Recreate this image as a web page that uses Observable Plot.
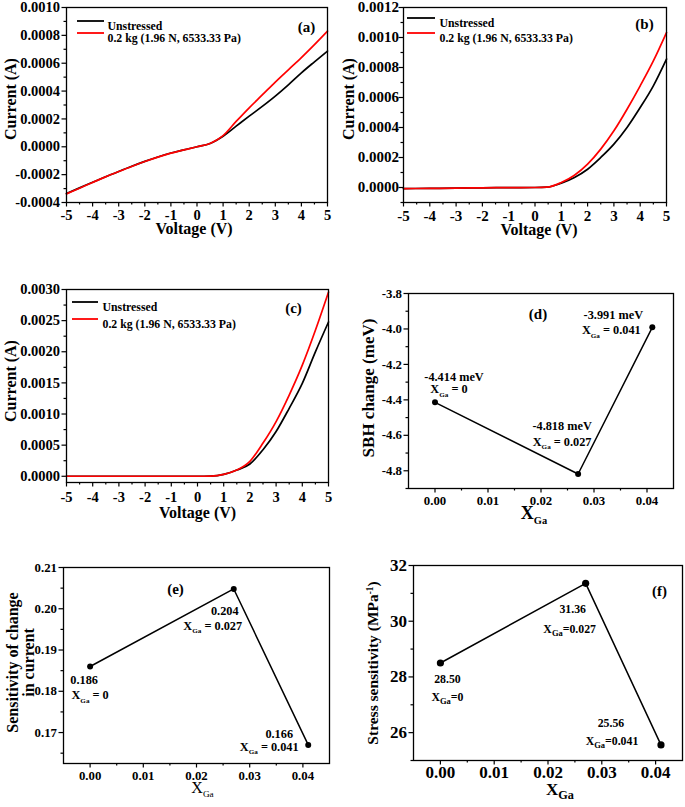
<!DOCTYPE html>
<html><head><meta charset="utf-8">
<script src="https://cdn.jsdelivr.net/npm/d3@7"></script>
<script src="https://cdn.jsdelivr.net/npm/@observablehq/plot@0.6"></script>
<style>
body{margin:0;background:#fff;}
#root{position:relative;width:685px;height:807px;overflow:hidden;background:#fff;}
#root svg{position:absolute;}
</style></head><body><div id="root"></div>
<script>
// ---------------- DATA ----------------
const seriesNames = ["Unstressed", "0.2 kg (1.96 N, 6533.33 Pa)"];

// (a)
const voltageA = [-5,-4.5,-4,-3.5,-3,-2.5,-2,-1.5,-1,-0.5,0,0.5,1,1.5,2,2.5,3,3.5,4,4.5,5];
const aUnstressed = [-0.000335,-0.000295,-0.000255,-0.000215,-0.000177,-0.000140,-0.000105,-0.000073,-0.000045,-0.000022,0,0.000024,0.000076,0.000148,0.000220,0.000290,0.000364,0.000445,0.000531,0.000610,0.000687];
const aStressed   = [-0.000338,-0.000297,-0.000256,-0.000216,-0.000178,-0.000141,-0.000106,-0.000074,-0.000046,-0.000022,0,0.000024,0.000080,0.000182,0.000280,0.000372,0.000465,0.000553,0.000640,0.000733,0.000830];

// (b)
const voltageB = [-5,-4,-3,-2,-1,0,0.45,1,1.5,2,2.5,3,3.5,4,4.5,5];
const bUnstressed = [-0.000007,-0.000006,-0.000004,-0.000002,-0.000001,0,0.000002,0.000029,0.000067,0.000122,0.000200,0.000289,0.000400,0.000533,0.000678,0.000856];
const bStressed   = [-0.000007,-0.000006,-0.000004,-0.000002,-0.000001,0,0.000002,0.000033,0.000082,0.000156,0.000256,0.000378,0.000522,0.000678,0.000844,0.001033];

// (c)
const voltageC = [-5,-4,-3,-2,-1,0,0.5,1,1.5,2,2.5,3,3.5,4,4.5,5];
const cUnstressed = [0,0,0,0,0,0,0.000003,0.00003,0.0001,0.000197,0.000426,0.000719,0.001092,0.001492,0.001998,0.002478];
const cStressed   = [0,0,0,0,0,0,0.000003,0.00003,0.0001,0.00024,0.000533,0.000879,0.001305,0.001785,0.002345,0.002957];

// (d), (e), (f)
const xGa = [0, 0.027, 0.041];
const sbhChange = [-4.414, -4.818, -3.991];
const sbhLabels = ["-4.414 meV", "-4.818 meV", "-3.991 meV"];
const xGaLabelsSpaced = ["X_{Ga} = 0", "X_{Ga} = 0.027", "X_{Ga} = 0.041"];
const currentSensitivity = [0.186, 0.2048, 0.167];
const currentSensLabels = ["0.186", "0.204", "0.166"];
const stressSensitivity = [28.50, 31.36, 25.56];
const stressSensLabels = ["28.50", "31.36", "25.56"];
const xGaLabelsTight = ["X_{Ga}=0", "X_{Ga}=0.027", "X_{Ga}=0.041"];

// ticks
const voltTicks = [-5,-4,-3,-2,-1,0,1,2,3,4,5];
const voltMinor = [-4.5,-3.5,-2.5,-1.5,-0.5,0.5,1.5,2.5,3.5,4.5];
const aTicksY = [-0.0004,-0.0002,0,0.0002,0.0004,0.0006,0.0008,0.001];
const aMinorY = [-0.0003,-0.0001,0.0001,0.0003,0.0005,0.0007,0.0009];
const bTicksY = [0,0.0002,0.0004,0.0006,0.0008,0.001,0.0012];
const bMinorY = [-0.0001,0.0001,0.0003,0.0005,0.0007,0.0009,0.0011];
const cTicksY = [0,0.0005,0.001,0.0015,0.002,0.0025,0.003];
const cMinorY = [0.00025,0.00075,0.00125,0.00175,0.00225,0.00275];
const xGaTicks = [0,0.01,0.02,0.03,0.04];
const xGaMinor = [0.005,0.015,0.025,0.035];
const dTicksY = [-4.8,-4.6,-4.4,-4.2,-4.0,-3.8];
const dMinorY = [-4.9,-4.7,-4.5,-4.3,-4.1,-3.9];
const eTicksY = [0.17,0.18,0.19,0.20,0.21];
const eMinorY = [0.165,0.175,0.185,0.195,0.205];
const fTicksY = [26,28,30,32];
const fMinorY = [25,27,29,31];

// ---------------- RENDER ----------------
const NS = "http://www.w3.org/2000/svg";
const root = document.getElementById("root");
const SERIF = "'Liberation Serif','Times New Roman',serif";
const fmt = p => d => d.toFixed(p);
const blank = () => "";

function richify(svg, ratio) {
  svg.querySelectorAll("text").forEach(t => {
    const targets = t.children.length ? Array.from(t.querySelectorAll("tspan")) : [t];
    targets.forEach(el => {
      const s = el.textContent;
      if (!/[_^]\{/.test(s)) return;
      const fs = parseFloat(getComputedStyle(el).fontSize);
      const parts = s.split(/([_^]\{[^}]*\})/);
      el.textContent = "";
      let shift = 0;
      parts.forEach(p => {
        if (!p) return;
        const ts = document.createElementNS(NS, "tspan");
        let off = 0;
        if (p.startsWith("_{")) { off = 0.28 * fs; ts.textContent = p.slice(2, -1); ts.setAttribute("font-size", (ratio * fs) + "px"); }
        else if (p.startsWith("^{")) { off = -0.38 * fs; ts.textContent = p.slice(2, -1); ts.setAttribute("font-size", (0.6 * fs) + "px"); }
        else { ts.textContent = p; }
        if (off - shift !== 0) ts.setAttribute("dy", (off - shift) + "px");
        shift = off;
        el.appendChild(ts);
      });
    });
  });
}

function panel(c) {
  const lab = (text, anchor, o) => Plot.text([text], {
    frameAnchor: anchor, text: d => d, dx: o.dx, dy: o.dy, fontSize: o.size,
    fontWeight: o.weight || "bold", rotate: o.rotate || 0, fill: "black", textAnchor: "middle"
  });
  const marks = [
    Plot.axisX(c.xMinor, {anchor: "bottom", tickSize: 2.5, tickFormat: blank, strokeWidth: 1.2, label: null}),
    Plot.axisX(c.xTicks, {anchor: "bottom", tickSize: 4.5, tickPadding: c.xPad, tickFormat: c.xFmt, strokeWidth: 1.2, label: null, fontSize: c.tickFont}),
    Plot.axisY(c.yMinor, {anchor: "left", tickSize: 2.5, tickFormat: blank, strokeWidth: 1.2, label: null}),
    Plot.axisY(c.yTicks, {anchor: "left", tickSize: 4.5, tickPadding: c.yPad, tickFormat: c.yFmt, strokeWidth: 1.2, label: null, fontSize: c.tickFont}),
    ...c.marks,
    Plot.frame({stroke: "black", strokeWidth: 1.3}),
    lab(c.xLabel.text, "bottom", c.xLabel),
    ...c.yLabels.map(l => lab(l.text, "left", {...l, rotate: -90})),
    lab(c.tag.text, c.tag.anchor, {dx: c.tag.dx, dy: c.tag.dy, size: 15})
  ];
  if (c.legend) {
    c.legend.labels.forEach((t, i) => marks.push(Plot.text([t], {
      frameAnchor: "top-left", text: d => d, textAnchor: "start", dx: c.legend.textX, dy: c.legend.rowsY[i],
      fontSize: 11.8, fontWeight: "bold", fill: "black"
    })));
  }
  const svg = Plot.plot({
    width: c.width, height: c.height,
    marginLeft: c.m[0], marginRight: c.m[1], marginTop: c.m[2], marginBottom: c.m[3],
    x: {domain: c.xDomain}, y: {domain: c.yDomain},
    style: `font-family:${SERIF};font-weight:bold;font-size:${c.tickFont}px;text-anchor:middle;background:white;overflow:visible;color:black;`,
    marks
  });
  svg.style.left = c.left + "px";
  svg.style.top = c.top + "px";
  root.appendChild(svg);
  if (c.legend) {
    const g = d3.select(svg).append("g");
    c.legend.colors.forEach((col, i) => {
      g.append("line")
        .attr("x1", c.m[0] + c.legend.lineX[0]).attr("x2", c.m[0] + c.legend.lineX[1])
        .attr("y1", c.m[2] + c.legend.rowsY[i]).attr("y2", c.m[2] + c.legend.rowsY[i])
        .attr("stroke", col).attr("stroke-width", 1.8);
    });
  }
  richify(svg, c.subRatio || 0.6);
  return svg;
}

const ivLines = (v, u, s) => [
  Plot.lineY(u, {x: v, stroke: "black", strokeWidth: 1.7, curve: "monotone-x"}),
  Plot.lineY(s, {x: v, stroke: "#ff0000", strokeWidth: 1.7, curve: "monotone-x"})
];

function annot(xs, ys, labels, offs, size) {
  return labels.map((t, i) => Plot.text([i], {
    x: j => xs[j], y: j => ys[j], text: () => t, dx: offs[i][0], dy: offs[i][1],
    fontSize: size, fontWeight: "bold", fill: "black", textAnchor: "middle"
  }));
}

// (a)
panel({
  left: 0, top: 0, width: 340, height: 270, m: [66, 13, 7, 68],
  xDomain: [-5, 5], yDomain: [-0.0004, 0.001],
  xTicks: voltTicks, xMinor: voltMinor, xFmt: fmt(0), xPad: 3,
  yTicks: aTicksY, yMinor: aMinorY, yFmt: fmt(4), yPad: 2, tickFont: 14.5,
  marks: ivLines(voltageA, aUnstressed, aStressed),
  xLabel: {text: "Voltage (V)", dx: -3, dy: 31, size: 16},
  yLabels: [{text: "Current (A)", dx: -56, dy: -6, size: 16}],
  tag: {text: "(a)", anchor: "top-right", dx: -21, dy: 14},
  legend: {labels: seriesNames, colors: ["black", "#ff0000"], lineX: [11, 38], rowsY: [14, 26], textX: 41}
});

// (b)
panel({
  left: 340, top: 0, width: 345, height: 270, m: [63, 19, 7, 68],
  xDomain: [-5, 5], yDomain: [-0.0001, 0.0012],
  xTicks: voltTicks, xMinor: voltMinor, xFmt: fmt(0), xPad: 3,
  yTicks: bTicksY, yMinor: bMinorY, yFmt: fmt(4), yPad: 0, tickFont: 15,
  marks: ivLines(voltageB, bUnstressed, bStressed),
  xLabel: {text: "Voltage (V)", dx: 4, dy: 32, size: 16},
  yLabels: [{text: "Current (A)", dx: -55, dy: -6, size: 16}],
  tag: {text: "(b)", anchor: "top-right", dx: -22, dy: 11},
  legend: {labels: seriesNames, colors: ["black", "#ff0000"], lineX: [4, 32], rowsY: [11, 26], textX: 36}
});

// (c)
panel({
  left: 0, top: 270, width: 340, height: 270, m: [66, 12, 19, 58],
  xDomain: [-5, 5], yDomain: [-0.0001, 0.003],
  xTicks: voltTicks, xMinor: voltMinor, xFmt: fmt(0), xPad: 5,
  yTicks: cTicksY, yMinor: cMinorY, yFmt: fmt(4), yPad: 2, tickFont: 14.5,
  marks: ivLines(voltageC, cUnstressed, cStressed),
  xLabel: {text: "Voltage (V)", dx: 0, dy: 35, size: 16},
  yLabels: [{text: "Current (A)", dx: -56, dy: -5, size: 16}],
  tag: {text: "(c)", anchor: "top-right", dx: -35, dy: 13},
  legend: {labels: seriesNames, colors: ["black", "#ff0000"], lineX: [6, 32], rowsY: [13, 30], textX: 36}
});

// (d)
panel({
  left: 340, top: 270, width: 345, height: 270, m: [68, 12, 23, 52],
  xDomain: [-0.005, 0.045], yDomain: [-4.9, -3.8],
  xTicks: xGaTicks, xMinor: xGaMinor, xFmt: fmt(2), xPad: 3,
  yTicks: dTicksY, yMinor: dMinorY, yFmt: fmt(1), yPad: 2, tickFont: 12.8,
  marks: [
    Plot.line(sbhChange, {x: xGa, y: sbhChange, stroke: "black", strokeWidth: 1.5}),
    Plot.dot(sbhChange, {x: xGa, y: sbhChange, r: 3, fill: "black"}),
    ...annot(xGa, sbhChange, sbhLabels, [[19, -25], [-16, -48], [-39, -12]], 12.3),
    ...annot(xGa, sbhChange, xGaLabelsSpaced, [[14, -13], [-16, -32], [-41, 3]], 12.3)
  ],
  xLabel: {text: "X_{Ga}", dx: -7, dy: 30, size: 18},
  yLabels: [{text: "SBH change (meV)", dx: -40, dy: -3, size: 17}],
  tag: {text: "(d)", anchor: "top", dx: -3, dy: 15},
  subRatio: 0.58
});

// (e)
panel({
  left: 0, top: 540, width: 340, height: 267, m: [63, 11, 27, 44],
  xDomain: [-0.005, 0.045], yDomain: [0.1625, 0.21],
  xTicks: xGaTicks, xMinor: xGaMinor, xFmt: fmt(2), xPad: 3,
  yTicks: eTicksY, yMinor: eMinorY, yFmt: fmt(2), yPad: 2, tickFont: 12.8,
  marks: [
    Plot.line(currentSensitivity, {x: xGa, y: currentSensitivity, stroke: "black", strokeWidth: 1.5}),
    Plot.dot(currentSensitivity, {x: xGa, y: currentSensitivity, r: 3, fill: "black"}),
    ...annot(xGa, currentSensitivity, currentSensLabels, [[-6, 14], [-9, 22], [-29, -11]], 12.3),
    ...annot(xGa, currentSensitivity, xGaLabelsSpaced, [[0, 29], [-21, 37], [-39, 2]], 12.3)
  ],
  xLabel: {text: "X_{Ga}", dx: 6, dy: 29, size: 16, weight: "normal"},
  yLabels: [
    {text: "Sensitivity of change", dx: -51, dy: -3, size: 16},
    {text: "in current", dx: -35, dy: -3, size: 16}
  ],
  tag: {text: "(e)", anchor: "top", dx: -21, dy: 16},
  subRatio: 0.58
});

// (f)
panel({
  left: 340, top: 540, width: 345, height: 267, m: [73, 3, 25, 47],
  xDomain: [-0.005, 0.045], yDomain: [25, 32],
  xTicks: xGaTicks, xMinor: xGaMinor, xFmt: fmt(2), xPad: 1,
  yTicks: fTicksY, yMinor: fMinorY, yFmt: fmt(0), yPad: 2, tickFont: 17,
  marks: [
    Plot.line(stressSensitivity, {x: xGa, y: stressSensitivity, stroke: "black", strokeWidth: 1.5}),
    Plot.dot(stressSensitivity, {x: xGa, y: stressSensitivity, r: 3.6, fill: "black"}),
    ...annot(xGa, stressSensitivity, stressSensLabels, [[7, 16], [-13, 26], [-50, -22]], 11.8),
    ...annot(xGa, stressSensitivity, xGaLabelsTight, [[7, 34], [-16, 46], [-49, -4]], 11.8)
  ],
  xLabel: {text: "X_{Ga}", dx: 12, dy: 34, size: 17},
  yLabels: [{text: "Stress sensitivity (MPa^{-1})", dx: -40, dy: 0, size: 15.5}],
  tag: {text: "(f)", anchor: "top-right", dx: -23, dy: 20},
  subRatio: 0.72
});
</script>
</body></html>
